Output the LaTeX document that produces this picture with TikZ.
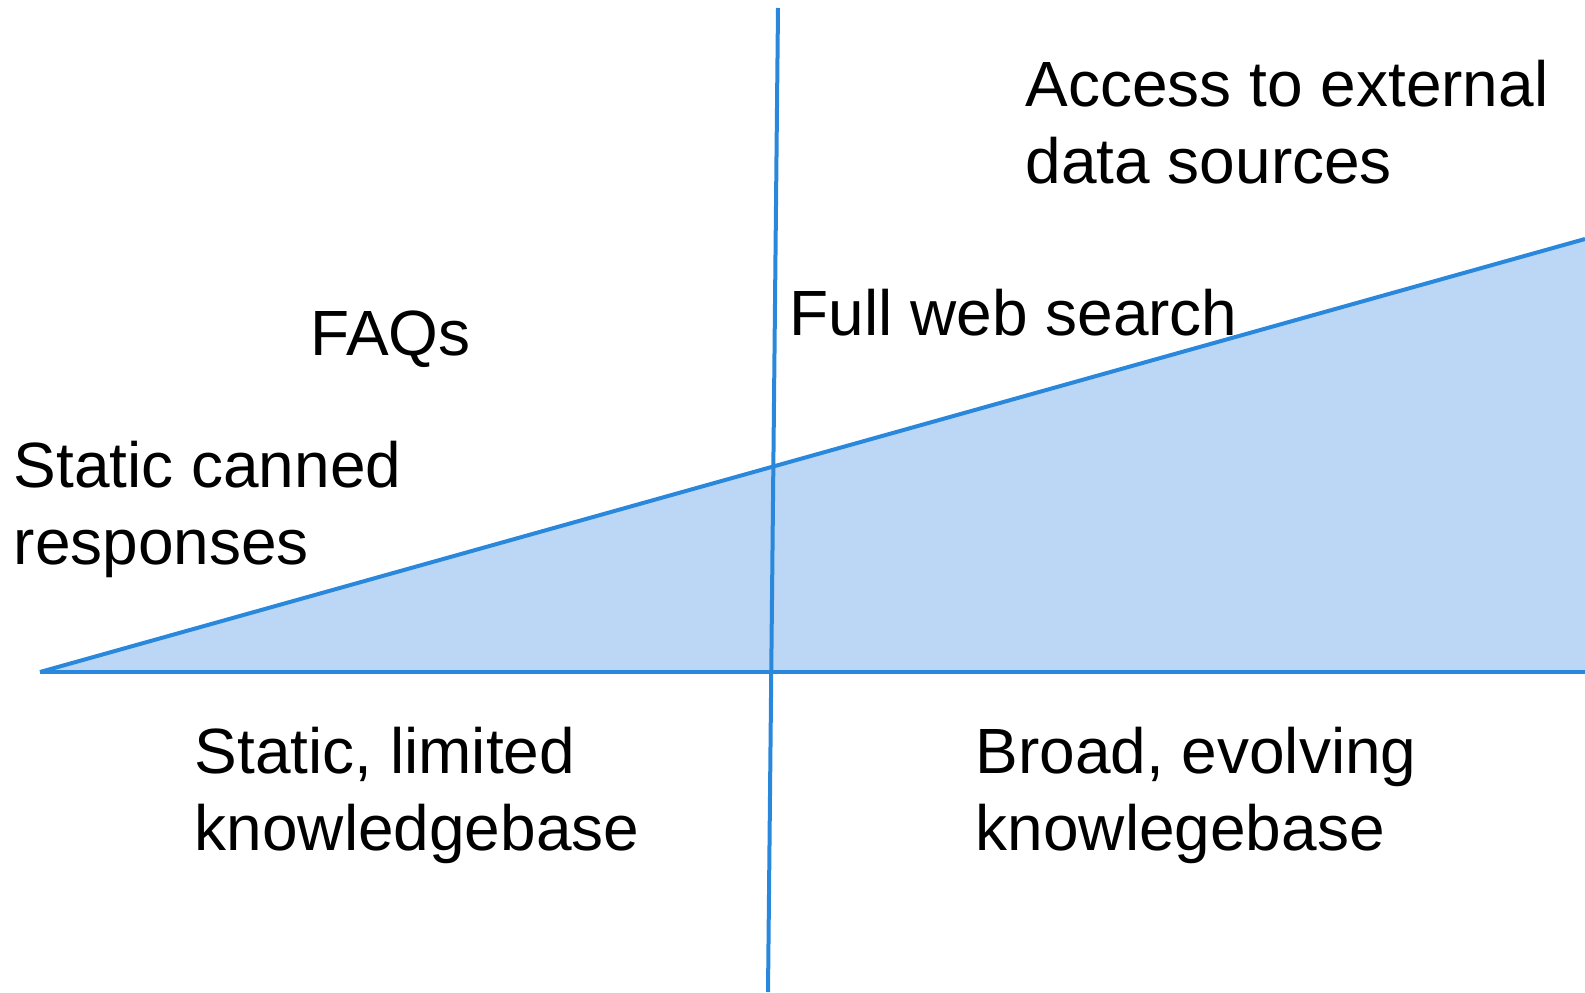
\documentclass[tikz,border=0pt]{standalone}
\usepackage{fontspec}
\setmainfont{Liberation Sans}
\definecolor{lineblue}{RGB}{42,136,220}
\definecolor{fillblue}{RGB}{187,215,245}
\begin{document}
\begin{tikzpicture}[
  axis/.style={draw=lineblue, line width=0.4mm},
  lbl/.style={anchor=north west, inner sep=0pt, align=left,
    font=\fontsize{18.2pt}{22.1pt}\selectfont, text=black}
]
\useasboundingbox (0,0) rectangle (15.85,9.92);
\coordinate (tip) at (0.40,3.20);
\coordinate (rt) at (15.85,7.53);
\coordinate (rb) at (15.85,3.20);
\coordinate (vtop) at (7.78,9.84);
\coordinate (vbot) at (7.68,0);
\fill[fillblue] (tip) -- (rt) -- (rb) -- cycle;
\draw[axis] (tip) -- (rt);
\draw[axis] (tip) -- (rb);
\draw[axis] (vtop) -- (vbot);
\node[lbl] (access) at (10.25,9.33) {Access to external\\data sources};
\node[lbl] (faq) at (3.10,6.82) {FAQs};
\node[lbl] (web) at (7.89,7.04) {Full web search};
\node[lbl] (canned) at (0.13,5.52) {Static canned\\responses};
\node[lbl] (limited) at (1.94,2.66) {Static, limited\\knowledgebase};
\node[lbl] (broad) at (9.75,2.66) {Broad, evolving\\knowlegebase};
\end{tikzpicture}
\end{document}
